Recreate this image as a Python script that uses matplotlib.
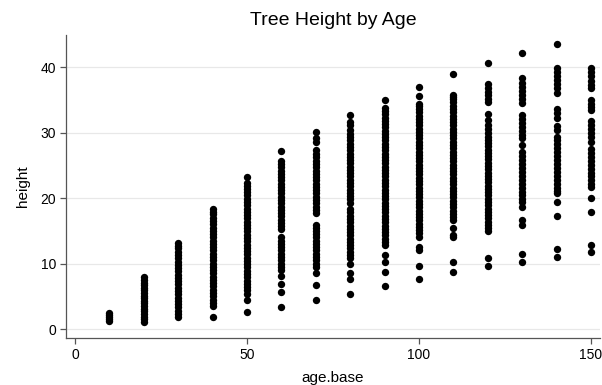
import matplotlib
matplotlib.use("Agg")
import matplotlib.pyplot as plt
import numpy as np

ages = [10, 20, 30, 40, 50, 60, 70, 80, 90, 100, 110, 120, 130, 140, 150]

h10 = [1.2, 1.5, 1.8, 2.1, 2.4]
h20 = [1.1, 1.5, 1.9, 2.3, 2.7, 3.1, 3.5, 3.9, 4.3, 4.7, 5.1, 5.5, 5.9, 6.3,
       6.7, 7.1, 7.5, 7.9]
h30 = [1.8, 2.3, 2.8, 3.3, 3.8, 4.3, 4.8, 5.3, 5.8, 6.3, 6.8, 7.3, 7.8, 8.3,
       8.8, 9.3, 9.8, 10.3, 10.8, 11.3, 11.8, 12.3, 12.7, 13.1]
h40 = [1.9, 3.5, 4.0, 4.5, 5.0, 5.5, 6.0, 6.5, 7.0, 7.5, 8.0, 8.5, 9.0, 9.5,
       10.0, 10.5, 11.0, 11.5, 12.0, 12.5, 13.0, 13.5, 14.0, 14.5, 15.0, 15.5,
       16.0, 16.5, 17.0, 17.5, 17.9, 18.3]
h50 = [2.6, 4.5, 5.4, 5.9, 6.4, 6.9, 7.4, 7.9, 8.4, 8.9, 9.4, 9.9, 10.4, 10.9,
       11.4, 11.9, 12.4, 12.9, 13.4, 13.9, 14.4, 14.9, 15.4, 15.9, 16.4, 16.9,
       17.4, 17.9, 18.4, 18.9, 19.4, 19.9, 20.4, 20.9, 21.4, 21.9, 22.3, 23.2]
h60 = [3.4, 5.6, 6.8, 8.1, 9.0, 9.5, 10.0, 10.5, 11.0, 11.5, 12.0, 12.5, 13.0,
       13.5, 14.0, 15.2, 15.7, 16.2, 16.7, 17.2, 17.7, 18.2, 18.7, 19.2, 19.7,
       20.2, 20.7, 21.2, 21.7, 22.2, 22.7, 23.2, 23.7, 24.2, 24.7, 25.2, 25.7,
       27.2]
h70 = [4.4, 6.7, 8.5, 9.5, 10.0, 10.5, 11.0, 11.5, 12.0, 12.5, 13.0, 13.5,
       14.0, 14.5, 15.0, 15.5, 15.9, 17.7, 18.2, 18.7, 19.2, 19.7, 20.2, 20.7,
       21.2, 21.7, 22.2, 22.7, 23.2, 23.7, 24.2, 24.7, 25.2, 25.7, 26.2, 26.7,
       27.3, 28.6, 29.1, 30.1]
h80 = [5.3, 7.7, 8.6, 9.9, 10.8, 11.3, 11.8, 12.3, 12.8, 13.3, 13.8, 14.3,
       14.8, 15.3, 15.8, 16.3, 16.8, 17.3, 17.8, 18.3, 19.3, 19.8, 20.3, 20.8,
       21.3, 21.8, 22.3, 22.8, 23.3, 23.8, 24.3, 24.8, 25.3, 25.8, 26.3, 26.8,
       27.3, 27.8, 28.3, 28.8, 29.3, 29.8, 30.4, 31.1, 31.6, 32.7]
h90 = [6.5, 8.7, 10.3, 11.3, 12.8, 13.3, 13.8, 14.3, 14.8, 15.3, 15.8, 16.3,
       16.8, 17.3, 17.8, 18.3, 18.8, 19.3, 19.8, 20.3, 20.8, 21.3, 21.8, 22.3,
       22.8, 23.3, 23.8, 24.3, 24.8, 25.3, 25.8, 26.3, 26.8, 27.3, 27.8, 28.3,
       28.8, 29.3, 29.8, 30.3, 30.8, 31.3, 31.8, 32.3, 32.8, 33.3, 33.8, 35.0]
h100 = [7.6, 9.6, 12.0, 12.6, 14.1, 14.6, 15.1, 15.6, 16.1, 16.6, 17.1, 17.6,
        18.1, 18.6, 19.1, 19.6, 20.1, 20.6, 21.1, 21.6, 22.1, 22.6, 23.1, 23.6,
        24.1, 24.6, 25.1, 25.6, 26.1, 26.6, 27.1, 27.6, 28.1, 28.6, 29.1, 29.6,
        30.1, 30.6, 31.1, 31.6, 32.1, 32.6, 33.1, 33.6, 34.1, 34.4, 35.6, 37.0]
h110 = [8.7, 10.3, 14.1, 14.4, 15.5, 16.6, 17.1, 17.6, 18.1, 18.6, 19.1, 19.6,
        20.1, 20.6, 21.1, 21.6, 22.1, 22.6, 23.1, 23.6, 24.1, 24.6, 25.1, 25.6,
        26.1, 26.6, 27.1, 27.6, 28.1, 28.6, 29.1, 29.6, 30.1, 30.6, 31.1, 31.6,
        32.1, 32.6, 33.1, 33.6, 34.1, 34.6, 35.1, 35.5, 35.8, 38.9]
h120 = [9.7, 10.9, 14.9, 15.4, 15.9, 16.4, 16.9, 17.4, 17.9, 18.4, 18.9, 19.4,
        19.9, 20.4, 20.9, 21.4, 21.9, 22.4, 22.9, 23.4, 23.9, 24.4, 24.9, 25.4,
        25.9, 26.4, 26.9, 27.4, 27.9, 28.4, 28.9, 29.4, 29.9, 30.5, 31.2, 31.9,
        32.8, 34.7, 35.2, 35.7, 36.2, 36.8, 37.4, 40.6]
h130 = [10.3, 11.5, 15.9, 16.6, 18.6, 19.4, 19.9, 20.4, 21.0, 21.6, 22.2, 22.8,
        23.4, 24.0, 24.6, 25.2, 25.8, 26.4, 27.0, 28.1, 29.1, 29.6, 30.2, 30.8,
        31.4, 32.0, 32.7, 34.5, 35.1, 35.7, 36.4, 37.0, 37.6, 38.3, 42.1]
h140 = [11.0, 12.2, 17.3, 19.4, 20.7, 21.1, 21.6, 22.2, 22.8, 23.4, 24.0, 24.6,
        25.2, 25.8, 26.4, 27.0, 27.6, 28.2, 28.8, 29.4, 30.4, 31.0, 32.3, 33.0,
        33.6, 36.1, 36.8, 37.4, 38.0, 38.6, 39.2, 39.8, 43.5]
h150 = [11.8, 12.9, 17.8, 20.0, 21.7, 22.2, 22.7, 23.3, 23.9, 24.5, 25.1, 25.7,
        26.3, 26.9, 27.5, 28.6, 29.4, 30.0, 30.6, 31.2, 31.8, 33.4, 33.9, 34.4,
        35.0, 36.8, 37.3, 37.9, 38.6, 39.3, 39.9]

heights = [h10, h20, h30, h40, h50, h60, h70, h80, h90, h100, h110, h120,
           h130, h140, h150]

x = []
y = []
for age, hs in zip(ages, heights):
    for h in hs:
        x.append(age)
        y.append(h)

plt.rcParams['font.family'] = ['Liberation Sans', 'DejaVu Sans']

fig = plt.figure(figsize=(6.02, 3.85), dpi=100)
ax = fig.add_axes([66 / 602, 1 - 338 / 385, 534 / 602, 303 / 385])

ax.scatter(x, y, s=28, color='black', linewidths=0, zorder=3)

ax.set_xlim(-2.6, 152.6)
ax.set_ylim(-1.37, 44.9)
ax.set_xticks([0, 50, 100, 150])
ax.set_yticks([0, 10, 20, 30, 40])
ax.grid(True, axis='y', color='#e8e8e8', linewidth=0.9, zorder=0)
ax.grid(False, axis='x')

for s in ['top', 'right']:
    ax.spines[s].set_visible(False)
for s in ['left', 'bottom']:
    ax.spines[s].set_color('#555555')
    ax.spines[s].set_linewidth(0.9)
ax.tick_params(colors='#555555', length=4, width=0.9, labelsize=10,
               labelcolor='black', pad=3)

ax.set_xlabel('age.base', fontsize=11, labelpad=7)
ax.set_ylabel('height', fontsize=11, labelpad=8)
ax.set_title('Tree Height by Age', fontsize=14, pad=7)

fig.savefig('out.png', dpi=100)
